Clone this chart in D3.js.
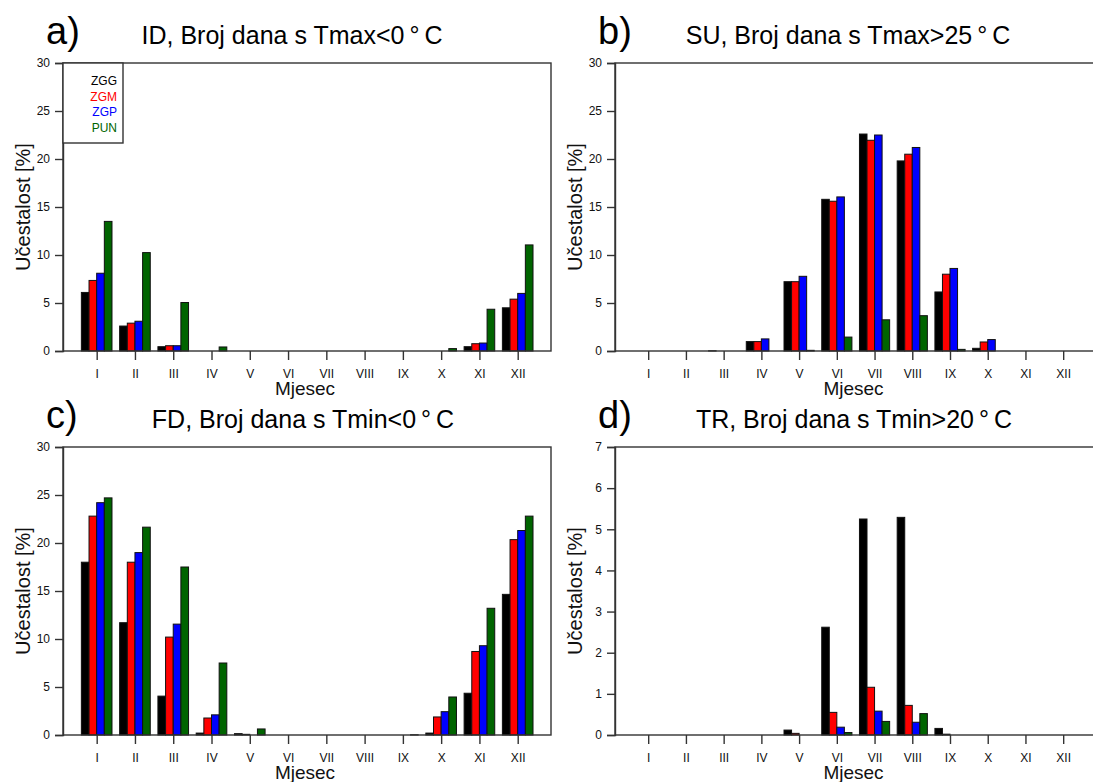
<!DOCTYPE html>
<html><head><meta charset="utf-8">
<script src="https://cdn.jsdelivr.net/npm/d3@7"></script>
<style>
html,body{margin:0;padding:0;background:#fff;}
svg{display:block;font-family:"Liberation Sans",Arial,sans-serif;}
</style></head>
<body><svg id="chart" width="1093" height="782"></svg>
<script>
// ---------- data ----------
const months = ["I","II","III","IV","V","VI","VII","VIII","IX","X","XI","XII"];
const stations = ["ZGG","ZGM","ZGP","PUN"];

const idZGG = [6.1,2.6,0.45,0,0,0,0,0,0,0,0.45,4.5];
const idZGM = [7.35,2.9,0.55,0,0,0,0,0,0,0,0.76,5.4];
const idZGP = [8.1,3.1,0.55,0,0,0,0,0,0,0,0.83,6.0];
const idPUN = [13.5,10.25,5.05,0.42,0,0,0,0,0,0.25,4.35,11.05];

const suZGG = [0,0,0.02,0.98,7.22,15.8,22.6,19.8,6.15,0.28,0,0];
const suZGM = [0,0,0,0.98,7.22,15.6,21.95,20.5,8.0,0.94,0,0];
const suZGP = [0,0,0,1.26,7.78,16.05,22.5,21.2,8.6,1.19,0,0];
const suPUN = [0,0,0,0,0.07,1.45,3.25,3.68,0.17,0,0,0];

const fdZGG = [18.0,11.7,4.05,0.2,0.14,0,0,0,0,0.2,4.35,14.65];
const fdZGM = [22.8,18.0,10.2,1.77,0.07,0,0,0,0,1.88,8.7,20.35];
const fdZGP = [24.2,19.0,11.55,2.1,0,0,0,0,0,2.43,9.3,21.3];
const fdPUN = [24.7,21.65,17.5,7.5,0.63,0,0,0,0.02,3.96,13.2,22.8];

const trZGG = [0,0,0,0,0.12,2.62,5.25,5.29,0.16,0,0,0];
const trZGM = [0,0,0,0,0.04,0.55,1.16,0.72,0.02,0,0,0];
const trZGP = [0,0,0,0,0,0.19,0.58,0.31,0,0,0,0];
const trPUN = [0,0,0,0,0,0.06,0.33,0.52,0,0,0,0];

const yTicksPct = [0,5,10,15,20,25,30];
const yTicksTR = [0,1,2,3,4,5,6,7];

const panelLetters = ["a)","b)","c)","d)"];
const panelTitles = [
  "ID, Broj dana s Tmax<0\u2009°\u2009C",
  "SU, Broj dana s Tmax>25\u2009°\u2009C",
  "FD, Broj dana s Tmin<0\u2009°\u2009C",
  "TR, Broj dana s Tmin>20\u2009°\u2009C"
];
const yTitle = "Učestalost [%]";
const xTitle = "Mjesec";

// ---------- style / layout ----------
const colors = ["#000000","#ff0000","#0000ff","#006400"];
const svg = d3.select("#chart");

const panels = [
  {series:[idZGG,idZGM,idZGP,idPUN], ymax:30, ticks:yTicksPct, L:63,  R:551,  T:63,  B:351, legend:true, tcx:292},
  {series:[suZGG,suZGM,suZGP,suPUN], ymax:30, ticks:yTicksPct, L:615, R:1096, T:63,  B:351, legend:false, tcx:848},
  {series:[fdZGG,fdZGM,fdZGP,fdPUN], ymax:30, ticks:yTicksPct, L:63,  R:551,  T:447, B:735, legend:false, tcx:303},
  {series:[trZGG,trZGM,trZGP,trPUN], ymax:7,  ticks:yTicksTR,  L:615, R:1096, T:447, B:735, legend:false, tcx:854}
];

panels.forEach((p, pi) => {
  const g = svg.append("g");
  const x = d3.scaleLinear().domain([0.12, 12.87]).range([p.L, p.R]);
  const y = d3.scaleLinear().domain([0, p.ymax]).range([p.B, p.T]);
  const bw = 0.2;

  // bars
  p.series.forEach((vals, si) => {
    g.append("g").selectAll("rect").data(vals).join("rect")
      .attr("x", (d,i) => x(i + 1 - 0.4 + si*bw))
      .attr("width", x(bw) - x(0))
      .attr("y", d => y(d))
      .attr("height", d => y(0) - y(d))
      .attr("fill", colors[si])
      .attr("stroke", "#111")
      .attr("stroke-width", 1);
  });

  // frame
  g.append("rect").attr("x", p.L).attr("y", p.T)
    .attr("width", p.R - p.L).attr("height", p.B - p.T)
    .attr("fill", "none").attr("stroke", "#333").attr("stroke-width", 1.4);

  // y axis
  const ya = d3.axisLeft(y).tickValues(p.ticks).tickSize(8).tickPadding(5).tickFormat(d3.format("d"));
  const yg = g.append("g").attr("transform", `translate(${p.L},0)`).call(ya);
  yg.select(".domain").attr("stroke", "#333").attr("stroke-width", 1.4);
  yg.selectAll(".tick line").attr("stroke", "#333").attr("stroke-width", 1.4);
  yg.selectAll(".tick text").attr("font-size", 12).attr("fill", "#111")
    .attr("font-family", '"Liberation Sans",Arial,sans-serif');

  // x axis
  const xa = d3.axisBottom(x).tickValues(d3.range(1, 13)).tickSize(9).tickPadding(9)
    .tickFormat(d => months[d - 1]);
  const xg = g.append("g").attr("transform", `translate(0,${p.B})`).call(xa);
  xg.select(".domain").remove();
  xg.selectAll(".tick line").attr("stroke", "#333").attr("stroke-width", 1.4);
  xg.selectAll(".tick text").attr("font-size", 12).attr("fill", "#111")
    .attr("font-family", '"Liberation Sans",Arial,sans-serif');

  // axis titles
  g.append("text").attr("x", (p.L + p.R) / 2 - 2).attr("y", p.B + 44)
    .attr("text-anchor", "middle").attr("font-size", 19).attr("fill", "#111").text(xTitle);
  g.append("text")
    .attr("transform", `translate(${p.L - 33},${(p.T + p.B) / 2}) rotate(-90)`)
    .attr("text-anchor", "middle").attr("font-size", 20).attr("fill", "#111").text(yTitle);

  // panel letter + title
  g.append("text").attr("x", p.L - 17).attr("y", p.T - 19)
    .attr("font-size", 38).attr("fill", "#000").text(panelLetters[pi]);
  g.append("text").attr("x", p.tcx).attr("y", p.T - 19).attr("text-anchor", "middle")
    .attr("font-size", 25).attr("fill", "#000").text(panelTitles[pi]);

  // legend
  if (p.legend) {
    g.append("rect").attr("x", p.L).attr("y", p.T).attr("width", 60).attr("height", 80)
      .attr("fill", "#fff").attr("stroke", "#333").attr("stroke-width", 1.4);
    stations.forEach((s, si) => {
      g.append("text").attr("x", p.L + 54).attr("y", p.T + 22 + si * 15.6)
        .attr("text-anchor", "end").attr("font-size", 12).attr("fill", colors[si]).text(s);
    });
  }
});
</script></body></html>
